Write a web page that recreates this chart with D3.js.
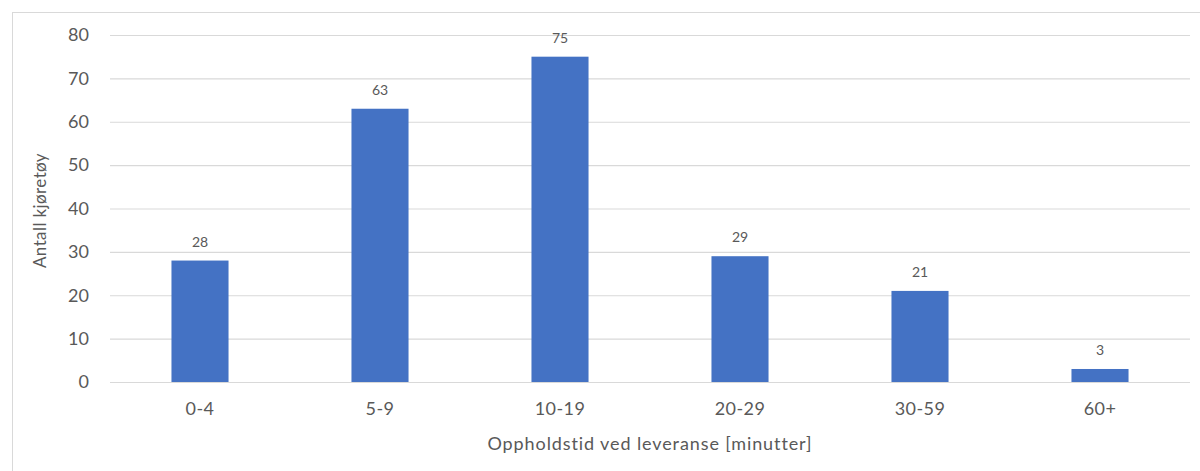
<!DOCTYPE html>
<html>
<head>
<meta charset="utf-8">
<script src="https://cdn.jsdelivr.net/npm/d3@7"></script>
<style>
  html, body { margin: 0; padding: 0; background: #fff; }
  svg { display: block; }
  text { font-family: Lato, "Open Sans", sans-serif; fill: #595959; }
</style>
</head>
<body>
<svg id="chart" width="1200" height="471"></svg>
<script>
const categories = ["0-4", "5-9", "10-19", "20-29", "30-59", "60+"];
const counts = [28, 63, 75, 29, 21, 3];
const yTicks = [0, 10, 20, 30, 40, 50, 60, 70, 80];
const yTitle = "Antall kjøretøy";
const xTitle = "Oppholdstid ved leveranse [minutter]";

const svg = d3.select("#chart");
const W = 1200, H = 471;

// chart area frame
svg.append("rect")
  .attr("x", 12.5).attr("y", 12.5)
  .attr("width", W).attr("height", H)
  .attr("fill", "#fff").attr("stroke", "#d9d9d9").attr("stroke-width", 1);

const plot = { left: 110, right: 1190, top: 35, bottom: 382 };

const x = d3.scaleBand()
  .domain(categories)
  .range([plot.left, plot.right])
  .paddingInner(0.683)
  .paddingOuter(0.3415);

const y = d3.scaleLinear()
  .domain([0, 80])
  .range([plot.bottom, plot.top]);

// gridlines and value ticks
const yAxis = d3.axisLeft(y).tickValues(yTicks).tickSize(-(plot.right - plot.left)).tickPadding(21);
const gy = svg.append("g")
  .attr("transform", `translate(${plot.left},0)`)
  .call(yAxis);
gy.select(".domain").remove();
gy.selectAll(".tick line").attr("stroke", "#d9d9d9").attr("stroke-width", 1.2);
gy.selectAll(".tick text")
  .attr("font-size", 18).attr("fill", "#595959")
  .style("font-family", "Lato, sans-serif");

const rows = categories.map((c, i) => ({ c, v: counts[i] }));

// bars
svg.append("g").selectAll("rect")
  .data(rows)
  .join("rect")
  .attr("x", d => x(d.c))
  .attr("y", d => y(d.v))
  .attr("width", x.bandwidth())
  .attr("height", d => y(0) - y(d.v))
  .attr("fill", "#4472c4");

// value labels
svg.append("g").selectAll("text")
  .data(rows)
  .join("text")
  .attr("x", d => x(d.c) + x.bandwidth() / 2)
  .attr("y", d => y(d.v) - 14)
  .attr("text-anchor", "middle")
  .attr("font-size", 14)
  .attr("fill", "#404040")
  .text(d => d.v);

// category axis
const xAxis = d3.axisBottom(x).tickSize(0).tickPadding(20);
const gx = svg.append("g")
  .attr("transform", `translate(0,${plot.bottom})`)
  .call(xAxis);
gx.select(".domain").remove();
gx.selectAll(".tick text")
  .attr("font-size", 18).attr("fill", "#595959")
  .attr("letter-spacing", 0.4)
  .style("font-family", "Lato, sans-serif");

// axis titles
svg.append("text")
  .attr("transform", `translate(46,${(plot.top + plot.bottom) / 2 + 2}) rotate(-90)`)
  .attr("text-anchor", "middle")
  .attr("font-size", 17)
  .attr("letter-spacing", 0.4)
  .text(yTitle);

svg.append("text")
  .attr("x", (plot.left + plot.right) / 2)
  .attr("y", 450)
  .attr("text-anchor", "middle")
  .attr("font-size", 18)
  .attr("letter-spacing", 0.9)
  .text(xTitle);
</script>
</body>
</html>
